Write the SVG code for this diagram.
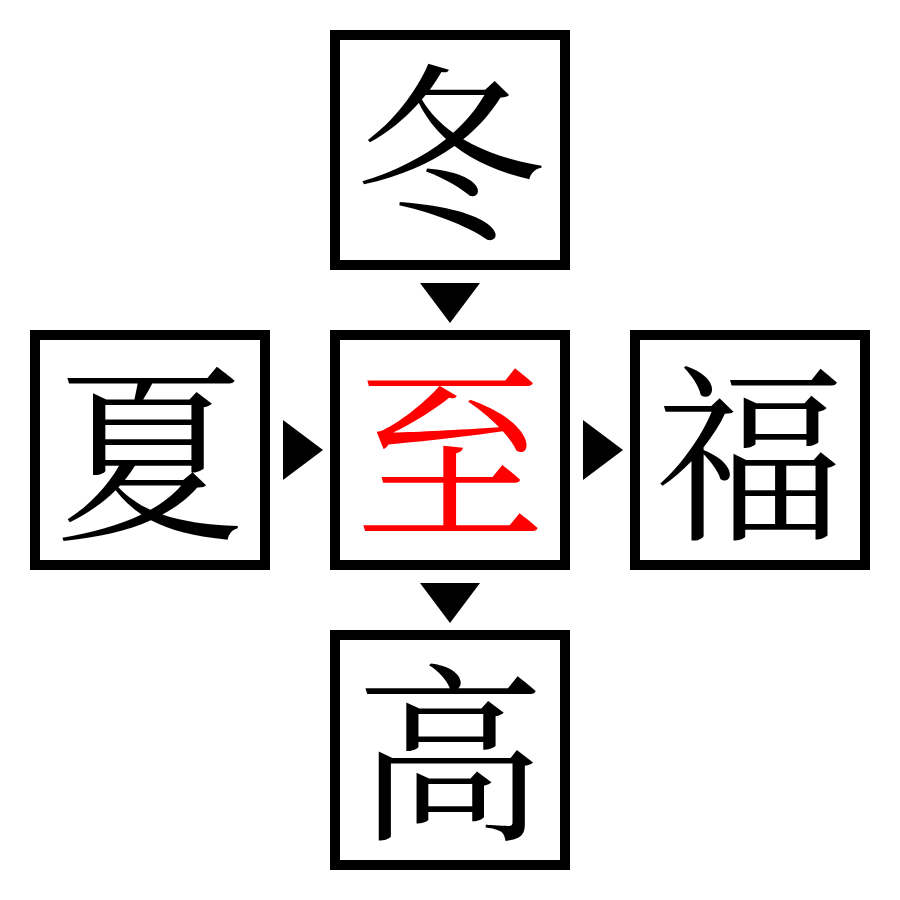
<svg xmlns="http://www.w3.org/2000/svg" width="900" height="900" viewBox="0 0 900 900">
<style>
.box{fill:#fff;stroke:#000;stroke-width:10}
.t{font-family:"Noto Serif CJK SC","Noto Sans CJK SC",serif;font-size:190px;text-anchor:middle;dominant-baseline:central;fill:#000}
.arr{fill:#000}
</style>
<rect width="900" height="900" fill="#fff"/>
<g id="n-dong"><rect class="box" x="335" y="35" width="230" height="230"/><text class="t" x="450" y="142">冬</text></g>
<g id="n-xia"><rect class="box" x="35" y="335" width="230" height="230"/><text class="t" x="150" y="442">夏</text></g>
<g id="n-zhi"><rect class="box" x="335" y="335" width="230" height="230"/><text class="t" x="450" y="442" style="fill:#f00">至</text></g>
<g id="n-fu"><rect class="box" x="635" y="335" width="230" height="230"/><text class="t" x="750" y="442">福</text></g>
<g id="n-gao"><rect class="box" x="335" y="635" width="230" height="230"/><text class="t" x="450" y="742">高</text></g>
<g id="connectors">
<polygon class="arr" points="420,283 480,283 450,323"/>
<polygon class="arr" points="283,420 283,480 323,450"/>
<polygon class="arr" points="583,420 583,480 623,450"/>
<polygon class="arr" points="420,583 480,583 450,623"/>
</g>
</svg>
